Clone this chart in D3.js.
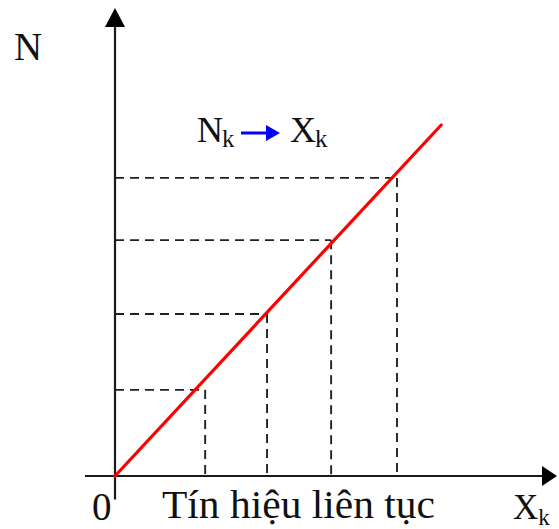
<!DOCTYPE html>
<html>
<head>
<meta charset="utf-8">
<script src="https://cdn.jsdelivr.net/npm/d3@7"></script>
<style>
  html, body { margin: 0; padding: 0; background: #fff; }
  svg { display: block; }
  text { font-family: "Liberation Serif", "DejaVu Serif", serif; fill: #111; }
</style>
</head>
<body>
<svg id="chart" width="559" height="529"></svg>
<script>
// Quantisation samples: continuous X values and the levels N they map to
const sampleX = [2.04, 3.44, 4.89, 6.38];
const sampleN = [1.84, 3.46, 5.04, 6.37];
// Continuous transfer line N(X)
const lineX = [0, 7.38];
const lineN = [0, 7.5];
// Axis extents (data units)
const xAxisExtent = [-0.68, 10];
const yAxisExtent = [-0.5, 10];
// Labels
const originLabel = "0";
const yAxisLabel = "N";
const xAxisLabel = "X";
const xAxisSub = "k";
const caption = "Tín hiệu liên tục";

const svg = d3.select("#chart");
const x = d3.scaleLinear().domain([0, 10]).range([115, 557]);
const y = d3.scaleLinear().domain([0, 10]).range([476, 8]);

const axisColor = "#1a1a1a";

// Dashed projections from each sample to both axes
const dashG = svg.append("g")
  .attr("fill", "none")
  .attr("stroke", "#222")
  .attr("stroke-width", 1.9)
  .attr("stroke-dasharray", "9,6");

const samples = sampleX.map((d, i) => ({ x: d, n: sampleN[i] }));

dashG.selectAll("line.h")
  .data(samples)
  .join("line")
  .attr("class", "h")
  .attr("x1", x(0))
  .attr("x2", d => x(d.x))
  .attr("y1", d => y(d.n))
  .attr("y2", d => y(d.n));

dashG.selectAll("line.v")
  .data(samples)
  .join("line")
  .attr("class", "v")
  .attr("x1", d => x(d.x))
  .attr("x2", d => x(d.x))
  .attr("y1", d => y(d.n))
  .attr("y2", y(0));

// Axes with arrowheads
svg.append("line")
  .attr("x1", x(xAxisExtent[0])).attr("x2", x(xAxisExtent[1]) - 10)
  .attr("y1", y(0)).attr("y2", y(0))
  .attr("stroke", axisColor).attr("stroke-width", 2.2);
svg.append("line")
  .attr("x1", x(0)).attr("x2", x(0))
  .attr("y1", y(yAxisExtent[0])).attr("y2", y(yAxisExtent[1]) + 12)
  .attr("stroke", axisColor).attr("stroke-width", 2.2);

const xt = x(xAxisExtent[1]), yt = y(yAxisExtent[1]);
svg.append("path")
  .attr("d", `M${xt},${y(0)} L${xt - 15},${y(0) - 10} L${xt - 15},${y(0) + 10} Z`)
  .attr("fill", "#000");
svg.append("path")
  .attr("d", `M${x(0)},${yt} L${x(0) - 10},${yt + 19} L${x(0) + 10},${yt + 19} Z`)
  .attr("fill", "#000");

// Transfer line
const line = d3.line().x(d => x(d[0])).y(d => y(d[1]));
svg.append("path")
  .datum(lineX.map((d, i) => [d, lineN[i]]))
  .attr("d", line)
  .attr("fill", "none")
  .attr("stroke", "#ff0000")
  .attr("stroke-width", 3.2)
  .attr("stroke-linecap", "round");

// Axis labels
svg.append("text").attr("x", 14).attr("y", 60)
  .attr("font-size", 39).text(yAxisLabel);
svg.append("text").attr("x", 92).attr("y", 520)
  .attr("font-size", 39).text(originLabel);
svg.append("text").attr("x", 162).attr("y", 518)
  .attr("font-size", 39)
  .attr("textLength", 273).attr("lengthAdjust", "spacingAndGlyphs")
  .text(caption);

const xl = svg.append("text").attr("x", 513).attr("y", 519).attr("font-size", 35);
xl.append("tspan").text(xAxisLabel);
xl.append("tspan").attr("font-size", 23).attr("dy", 6).text(xAxisSub);

// Mapping annotation N_k -> X_k
const ann = svg.append("g");
const t1 = ann.append("text").attr("x", 197).attr("y", 142).attr("font-size", 36);
t1.append("tspan").text("N");
t1.append("tspan").attr("font-size", 25).attr("dy", 5).attr("dx", -1).text("k");

ann.append("line")
  .attr("x1", 241).attr("x2", 270).attr("y1", 133).attr("y2", 133)
  .attr("stroke", "#0000ff").attr("stroke-width", 3);
ann.append("path")
  .attr("d", "M280,133 L266,125 L266,141 Z")
  .attr("fill", "#0000ff");

const t2 = ann.append("text").attr("x", 290).attr("y", 142).attr("font-size", 36);
t2.append("tspan").text("X");
t2.append("tspan").attr("font-size", 25).attr("dy", 5).attr("dx", -1).text("k");
</script>
</body>
</html>
